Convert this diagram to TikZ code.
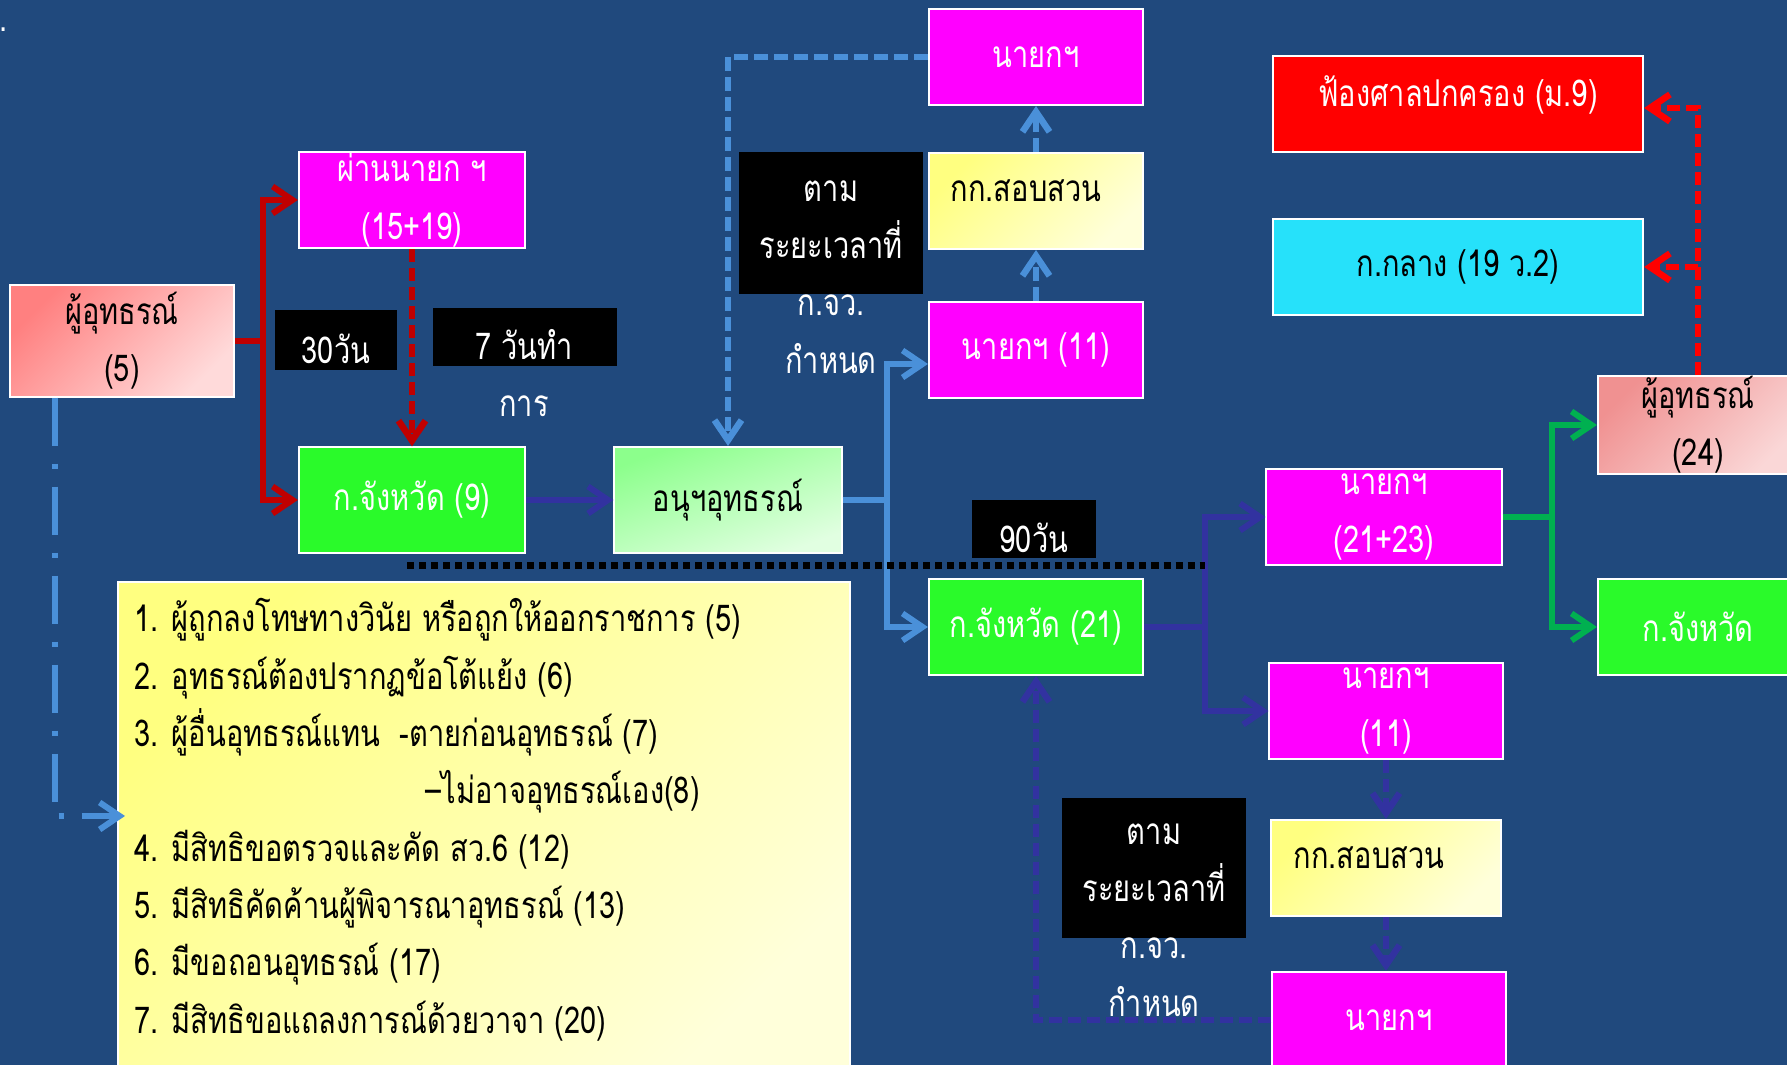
\documentclass[tikz,border=0pt]{standalone}
\usepackage{fontspec}
\setmainfont[Script=Thai,FakeStretch=0.785]{Loma}
\usetikzlibrary{arrows.meta, positioning}

\definecolor{bgblue}{RGB}{32,73,125}
\definecolor{boxmag}{RGB}{255,0,255}
\definecolor{boxgreen}{RGB}{42,250,42}
\definecolor{boxcyan}{RGB}{38,225,250}
\definecolor{pinkA}{RGB}{255,128,128}
\definecolor{pinkB}{RGB}{255,218,218}
\definecolor{pinkC}{RGB}{240,145,145}
\definecolor{pinkD}{RGB}{250,215,215}
\definecolor{yelA}{RGB}{255,255,128}
\definecolor{yelB}{RGB}{255,255,218}
\definecolor{subA}{RGB}{140,255,140}
\definecolor{subB}{RGB}{225,255,225}
\definecolor{linered}{RGB}{192,0,0}
\definecolor{lineblue}{RGB}{74,144,217}
\definecolor{lineindigo}{RGB}{50,50,160}
\definecolor{linegreen}{RGB}{0,176,80}

\newcommand\boxfont{\fontsize{10.5}{16.3}\selectfont}

\tikzset{
  box/.style={draw=white, line width=0.02cm, minimum height=0.96cm, inner sep=0pt, align=center},
  magbox/.style={box, fill=boxmag, text=white},
  redbox/.style={box, fill=red, text=white},
  greenbox/.style={box, fill=boxgreen, text=white},
  cyanbox/.style={box, fill=boxcyan, text=black},
  pinkbox/.style={box, top color=pinkA, bottom color=pinkB, shading angle=45, text=black},
  pinkboxB/.style={box, top color=pinkC, bottom color=pinkD, shading angle=45, text=black},
  yelbox/.style={box, top color=yelA, bottom color=yelB, shading angle=45, text=black},
  subbox/.style={box, top color=subA, bottom color=subB, shading angle=20, text=black},
  blackbox/.style={fill=black, text=white, inner sep=0pt},
  wtext/.style={text=white, align=center, inner sep=0pt},
  arr/.style={-{Straight Barb[length=0.2cm,width=0.27cm]}},
  redline/.style={draw=linered, line width=0.06cm},
  reddash/.style={draw=linered, line width=0.065cm, dash pattern=on 0.13cm off 0.06cm},
  brightdash/.style={draw=red, line width=0.065cm, dash pattern=on 0.13cm off 0.06cm},
  blueline/.style={draw=lineblue, line width=0.06cm},
  bluedash/.style={draw=lineblue, line width=0.065cm, dash pattern=on 0.14cm off 0.06cm},
  bluedashdot/.style={draw=lineblue, line width=0.06cm, dash pattern=on 0.48cm off 0.18cm on 0.05cm off 0.18cm},
  indline/.style={draw=lineindigo, line width=0.06cm},
  inddash/.style={draw=lineindigo, line width=0.065cm, dash pattern=on 0.13cm off 0.06cm},
  greenline/.style={draw=linegreen, line width=0.06cm},
  dotline/.style={draw=black, line width=0.07cm, dash pattern=on 0.07cm off 0.05cm}
}

\begin{document}
\begin{tikzpicture}[x=0.01cm, y=-0.01cm, font=\boxfont]

	\useasboundingbox (0,0) rectangle (1787,1065);
	\fill[bgblue] (0,0) rectangle (1787,1065);

	% top row
	\node[magbox, minimum width=2.14cm] (nayokTop) at (1036,57) {นายกฯ};
	\node[redbox, minimum width=3.70cm] (sue) at (1458,104) {\raisebox{0.26cm}{ฟ้องศาลปกครอง (ม.9)}};
	\node[magbox, minimum width=2.26cm] (viaNayok) at (412,200) {ผ่านนายก ฯ\\(15+19)};
	\node[blackbox, minimum width=1.83cm, minimum height=1.41cm] (timeA) at (831,223) {};
	\node[wtext] (timeAtxt) at (831,277) {ตาม\\ระยะเวลาที่\\ก.จว.\\กำหนด};
	\node[yelbox, minimum width=2.14cm] (probeA) at (1036,201) {\raisebox{0.2cm}{กก.สอบสวน\hspace{0.2cm}}};
	\node[cyanbox, minimum width=3.70cm] (central) at (1458,267) {ก.กลาง (19 ว.2)};

	% middle row
	\node[pinkbox, minimum width=2.24cm, minimum height=1.11cm] (appealA) at (122,341) {ผู้อุทธรณ์\\(5)};
	\node[blackbox, minimum width=1.22cm, minimum height=0.59cm] (d30) at (336,340) {};
	\node[wtext] (d30txt) at (336,349) {30วัน};
	\node[blackbox, minimum width=1.84cm, minimum height=0.57cm] (d7) at (525,337) {};
	\node[wtext] (d7txt) at (524,373) {7 วันทำ\\การ};
	\node[magbox, minimum width=2.14cm] (nayok11) at (1036,350) {นายกฯ (11)};
	\node[pinkboxB, minimum width=2.00cm, minimum height=0.97cm] (appealB) at (1698,425) {ผู้อุทธรณ์\\(24)};
	\node[greenbox, minimum width=2.26cm, minimum height=1.05cm] (provA) at (412,500) {ก.จังหวัด (9)};
	\node[subbox, minimum width=2.27cm, minimum height=1.06cm] (subcom) at (728,500) {อนุฯอุทธรณ์};
	\node[magbox, minimum width=2.35cm, minimum height=0.95cm] (nayok2123) at (1384,517) {นายกฯ\\(21+23)};
	\node[blackbox, minimum width=1.23cm, minimum height=0.58cm] (d90) at (1034,529) {};
	\node[wtext] (d90txt) at (1034,538) {90วัน};

	% lower part
	\node[yelbox, minimum width=7.32cm, minimum height=5.0cm, anchor=north west] (rights) at (117,581) {};
	\node[anchor=north west, align=left, inner sep=0pt] (rightsTxt) at (134,598) {%
		1. ผู้ถูกลงโทษทางวินัย หรือถูกให้ออกราชการ (5)\\
		2. อุทธรณ์ต้องปรากฏข้อโต้แย้ง (6)\\
		3. ผู้อื่นอุทธรณ์แทน\ \ -ตายก่อนอุทธรณ์ (7)\\
		\hspace*{2.91cm}–ไม่อาจอุทธรณ์เอง(8)\\
		4. มีสิทธิขอตรวจและคัด สว.6 (12)\\
		5. มีสิทธิคัดค้านผู้พิจารณาอุทธรณ์ (13)\\
		6. มีขอถอนอุทธรณ์ (17)\\
		7. มีสิทธิขอแถลงการณ์ด้วยวาจา (20)};
	\node[greenbox, minimum width=2.14cm] (provB) at (1036,627) {ก.จังหวัด (21)};
	\node[greenbox, minimum width=2.00cm] (provC) at (1698,627) {ก.จังหวัด};
	\node[magbox, minimum width=2.33cm] (nayok11b) at (1386,711) {นายกฯ\\(11)};
	\node[blackbox, minimum width=1.84cm, minimum height=1.40cm] (timeB) at (1154,868) {};
	\node[wtext] (timeBtxt) at (1154,920) {ตาม\\ระยะเวลาที่\\ก.จว.\\กำหนด};
	\node[yelbox, minimum width=2.30cm] (probeB) at (1386,868) {\raisebox{0.2cm}{กก.สอบสวน\hspace{0.34cm}}};
	\node[magbox, minimum width=2.33cm] (nayokB) at (1389,1020) {นายกฯ};
	\node[text=white, inner sep=0pt] (dot) at (4,30) {.};

	% junctions
	\coordinate (jA) at (263,341);
	\coordinate (jB) at (887,500);
	\coordinate (jC) at (1205,627);
	\coordinate (jD) at (1552,517);
	\coordinate (listIn) at (125,816);

	% connectors
	\draw[redline] (appealA.east) -- (jA);
	\draw[redline, arr] (jA) |- (viaNayok.west);
	\draw[redline, arr] (jA) |- (provA.west);
	\draw[reddash, arr] (viaNayok.south) -- (provA.north);
	\draw[indline, arr] (provA.east) -- (subcom.west);
	\draw[blueline] (subcom.east) -- (jB);
	\draw[blueline, arr] (jB) |- ([yshift=-0.14cm]nayok11.west);
	\draw[blueline, arr] (jB) |- (provB.west);
	\draw[bluedash, arr] (nayokTop.west) -| (subcom.north);
	\draw[bluedash, arr] (nayok11.north) -- (probeA.south);
	\draw[bluedash, arr] (probeA.north) -- (nayokTop.south);
	\draw[indline] (provB.east) -- (jC);
	\draw[indline, arr] (jC) |- (nayok2123.west);
	\draw[indline, arr] (jC) |- (nayok11b.west);
	\draw[inddash, arr] (nayok11b.south) -- (probeB.north);
	\draw[inddash, arr] (probeB.south) -- (probeB.south |- nayokB.north);
	\draw[inddash, arr] (nayokB.west) -| (provB.south);
	\draw[greenline] (nayok2123.east) -- (jD);
	\draw[greenline, arr] (jD) |- (appealB.west);
	\draw[greenline, arr] (jD) |- (provC.west);
	\draw[brightdash, arr] (appealB.north) |- ([yshift=-0.04cm]sue.east);
	\draw[brightdash, arr] (appealB.north |- central.east) -- (central.east);
	\draw[bluedashdot, arr] ([xshift=0.46cm]appealA.south west) |- (listIn);
	\draw[dotline] (407,566) -- (1205,566);

\end{tikzpicture}
\end{document}
